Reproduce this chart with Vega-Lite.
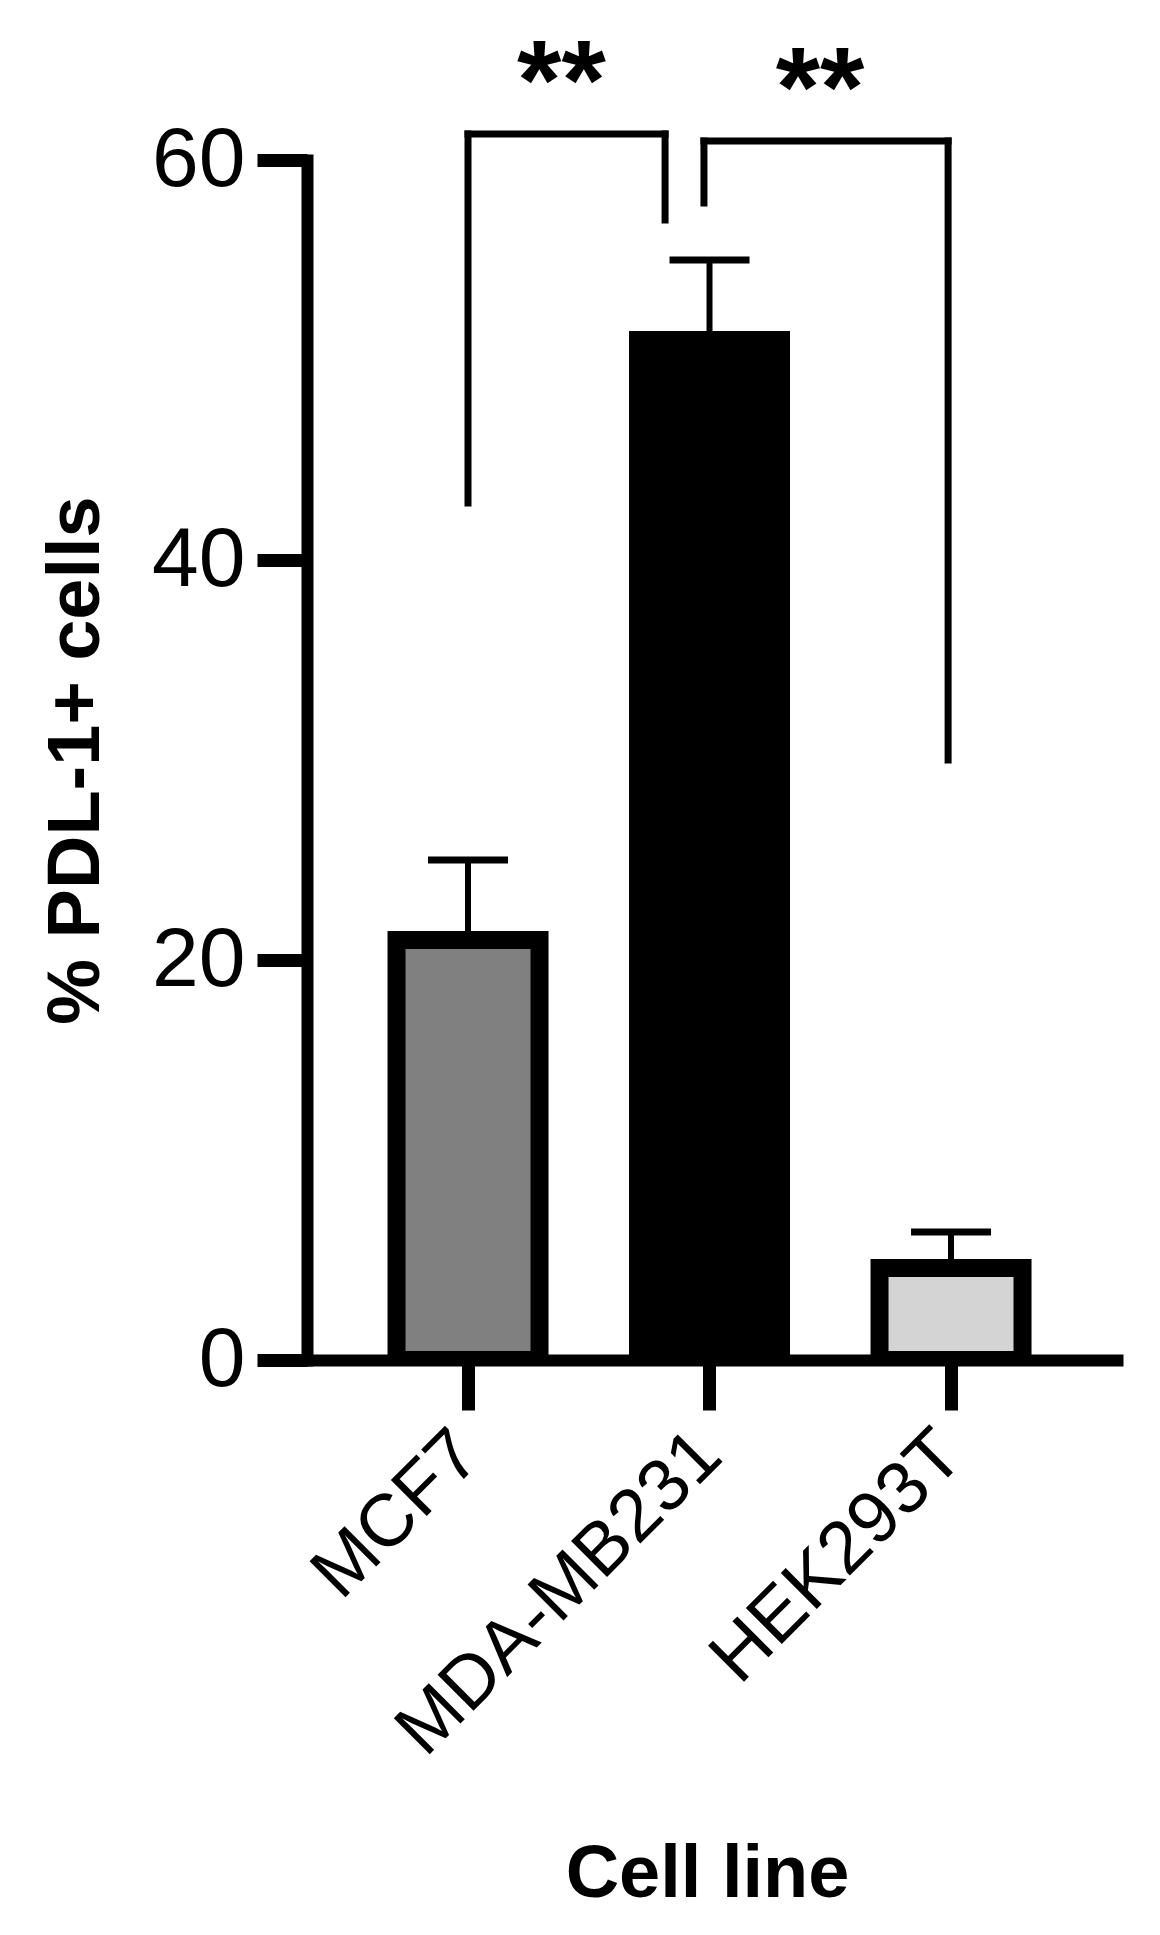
{
  "$schema": "https://vega.github.io/schema/vega-lite/v6.json",
  "autosize": {"type": "none"},
  "width": 810,
  "height": 1200,
  "padding": {"left": 307, "top": 160, "right": 43, "bottom": 575},
  "background": "white",
  "config": {"view": {"stroke": null}, "font": "Liberation Sans"},
  "datasets": {
    "bars": [
      {"cell": "MCF7", "mean": 21.0, "upper": 25.0},
      {"cell": "MDA-MB231", "mean": 51.0, "upper": 55.0},
      {"cell": "HEK293T", "mean": 4.6, "upper": 6.4}
    ],
    "brackets": [
      {"x1": 0, "x2": 0, "y1": 42.85, "y2": 61.3},
      {"x1": 0, "x2": 0.816, "y1": 61.3, "y2": 61.3},
      {"x1": 0.816, "x2": 0.816, "y1": 61.3, "y2": 57.0},
      {"x1": 0.977, "x2": 0.977, "y1": 57.85, "y2": 60.95},
      {"x1": 0.977, "x2": 1.988, "y1": 60.95, "y2": 60.95},
      {"x1": 1.988, "x2": 1.988, "y1": 60.95, "y2": 30.0}
    ],
    "stars": [
      {"pos": 0.387, "y": 62.05, "label": "**"},
      {"pos": 1.458, "y": 61.7, "label": "**"}
    ]
  },
  "layer": [
    {
      "data": {"name": "bars"},
      "encoding": {
        "x": {
          "field": "cell", "type": "nominal", "sort": null,
          "scale": {"paddingInner": 0, "paddingOuter": 0.177, "align": 0.471},
          "axis": {
            "title": "Cell line",
            "titleFontSize": 74, "titleFontWeight": "bold", "titleColor": "black",
            "titleX": 400, "titleY": 536, "titleBaseline": "alphabetic", "titleAlign": "center",
            "labelAngle": -45, "labelAlign": "right", "labelBaseline": "middle",
            "labelFontSize": 74, "labelColor": "black", "labelPadding": 33, "labelLimit": 0,
            "tickSize": 50, "tickWidth": 13, "tickColor": "black",
            "domainWidth": 12, "domainColor": "black", "domainCap": "square",
            "grid": false
          }
        },
        "y": {
          "type": "quantitative",
          "scale": {"domain": [0, 60], "nice": false, "zero": true},
          "axis": {
            "title": "% PDL-1+ cells",
            "titleFontSize": 74, "titleFontWeight": "bold", "titleColor": "black",
            "titleX": -209, "titleY": 600, "titleAngle": -90,
            "titleBaseline": "alphabetic", "titleAlign": "center",
            "values": [0, 20, 40, 60],
            "labelFontSize": 84, "labelColor": "black", "labelPadding": 12,
            "tickSize": 50, "tickWidth": 13, "tickColor": "black",
            "domainWidth": 12, "domainColor": "black", "domainCap": "square",
            "grid": false
          }
        }
      },
      "layer": [
        {
          "mark": {"type": "bar", "size": 143, "stroke": "black", "strokeWidth": 18, "clip": true},
          "encoding": {
            "y": {"field": "mean", "type": "quantitative"},
            "fill": {
              "field": "cell", "type": "nominal", "legend": null,
              "scale": {"domain": ["MCF7", "MDA-MB231", "HEK293T"], "range": ["#808080", "#000000", "#d4d4d4"]}
            }
          }
        },
        {
          "mark": {"type": "rule", "color": "black", "strokeWidth": 6},
          "encoding": {
            "y": {"field": "mean", "type": "quantitative"},
            "y2": {"field": "upper"}
          }
        },
        {
          "mark": {"type": "tick", "color": "black", "opacity": 1, "size": 80, "thickness": 7, "orient": "horizontal"},
          "encoding": {
            "y": {"field": "upper", "type": "quantitative"}
          }
        }
      ]
    },
    {
      "layer": [
        {
          "data": {"name": "brackets"},
          "mark": {"type": "rule", "color": "black", "strokeWidth": 7, "strokeCap": "square"},
          "encoding": {
            "x": {"field": "x1", "type": "quantitative", "scale": {"domain": [-0.6667, 2.6874], "nice": false, "zero": false}, "axis": null},
            "x2": {"field": "x2"},
            "y": {"field": "y1", "type": "quantitative", "scale": {"domain": [0, 60], "nice": false, "zero": true}, "axis": null},
            "y2": {"field": "y2"}
          }
        },
        {
          "data": {"name": "stars"},
          "mark": {"type": "text", "fontSize": 114, "fontWeight": "bold", "color": "black", "align": "center", "baseline": "alphabetic"},
          "encoding": {
            "x": {"field": "pos", "type": "quantitative", "scale": {"domain": [-0.6667, 2.6874], "nice": false, "zero": false}, "axis": null},
            "y": {"field": "y", "type": "quantitative", "scale": {"domain": [0, 60], "nice": false, "zero": true}, "axis": null},
            "text": {"field": "label"}
          }
        }
      ]
    }
  ],
  "resolve": {"scale": {"x": "independent"}, "axis": {"x": "independent", "y": "independent"}}
}
